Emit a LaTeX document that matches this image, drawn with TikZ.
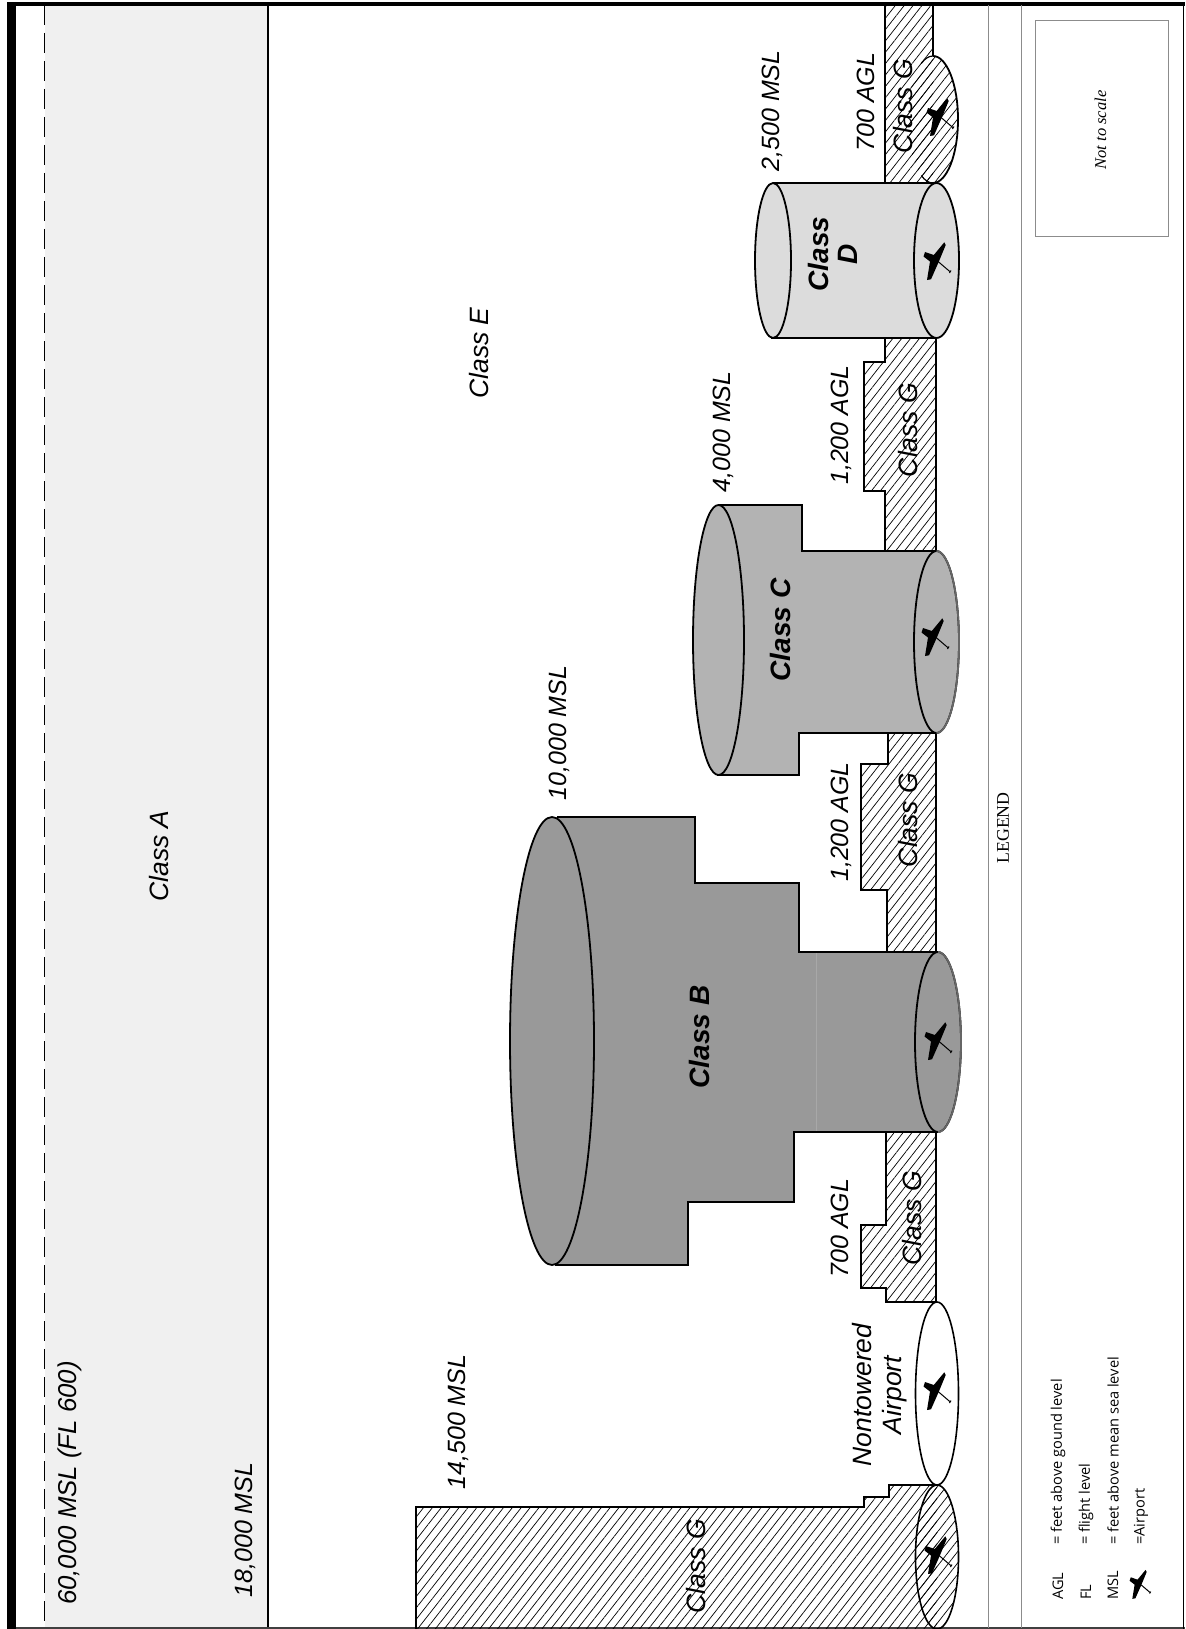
\documentclass[tikz,border=0pt]{standalone}
\usepackage{fontspec}
\setmainfont{Liberation Sans}
\newfontfamily\serfont{Liberation Serif}
\newfontfamily\legfont{Open Sans}
\usetikzlibrary{patterns.meta}
\definecolor{classa}{HTML}{F0F0F0}
\definecolor{classb}{HTML}{999999}
\definecolor{classc}{HTML}{B3B3B3}
\definecolor{classd}{HTML}{DCDCDC}
\definecolor{rulegrey}{HTML}{8C8C8C}
\begin{document}
\begin{tikzpicture}[x=1pt, y=-1pt, line join=miter,
    lbl/.style={rotate=90, inner sep=0, font=\fontsize{25}{28}\selectfont\itshape},
    cls/.style={rotate=90, inner sep=0, align=center, font=\fontsize{26.5}{30}\selectfont\itshape},
    clsb/.style={rotate=90, inner sep=0, align=center, font=\fontsize{28}{29}\selectfont\bfseries\itshape},
    leg/.style={rotate=90, inner sep=0, anchor=west, font=\fontsize{14.6}{18}\selectfont\legfont},
    hatch/.style={pattern={Lines[angle=52, distance=7pt, line width=.7pt]}},
    edge/.style={draw=black, line width=1.8pt},
    plane/.pic={
        \fill (7.3,-19.7) -- (8.7,-17) -- (1.8,-.3) -- (-6,17.3) -- (-10,18) -- (-7,-.5) -- (-13.5,-5.5) -- (-12,-10) -- (-3.2,-7) -- cycle;
        \draw[line width=1pt] (1.3,-.3) -- (13,9.7) (14,8.5) -- (12.5,11);
    }]

    \useasboundingbox (0,0) rectangle (1185,1629);

    \fill[classa] (45,5) rectangle (268,1629);
    \draw[line width=1.8pt, dash pattern=on 20pt off 8pt] (44.5,5) -- (44.5,1629);
    \draw[line width=2pt] (268,4) -- (268,1629);
    \fill (7,2) rectangle (16,1629);
    \draw[line width=3.4pt] (7,4) -- (1185,4);
    \draw[line width=1.4pt, black!75] (16,1628) -- (1185,1628);
    \draw[line width=1pt] (1183.5,4) -- (1183.5,1629);

    \draw[rulegrey, line width=1pt] (988.5,5) -- (988.5,1628);
    \draw[rulegrey, line width=1pt] (1021.5,5) -- (1021.5,1628);
    \draw[rulegrey, line width=1pt] (1035,21) rectangle (1168,237);

    \path[hatch] (885,5) rectangle (933,183);
    \draw[edge] (885,5) -- (885,183) (933,5) -- (933,56);
    \path[hatch] (933,119.5) ellipse (25 and 63.5);
    \draw[edge] (933,56) arc (-90:90:25 and 63.5);
    \draw[line width=1.2pt] (921.3,63.4) arc (-118:-90:25 and 63.5);
    \draw[line width=1.2pt] (921.3,175.6) arc (118:90:25 and 63.5);

    \path[hatch] (885,338) -- (885,362) -- (864,362) -- (864,491) -- (885,491) -- (885,551) -- (936,551) -- (936,338) -- cycle;
    \draw[edge] (885,338) -- (885,362) -- (864,362) -- (864,491) -- (885,491) -- (885,551) (936,338) -- (936,551);

    \path[hatch] (888,733) -- (888,764) -- (861,764) -- (861,890) -- (887,890) -- (887,952) -- (936,952) -- (936,733) -- cycle;
    \draw[edge] (888,733) -- (888,764) -- (861,764) -- (861,890) -- (887,890) -- (887,952) (936,733) -- (936,952);

    \path[hatch] (886,1132) -- (886,1225) -- (861,1225) -- (861,1288) -- (886,1288) -- (886,1302) -- (936,1302) -- (936,1132) -- cycle;
    \draw[edge] (886,1132) -- (886,1225) -- (861,1225) -- (861,1288) -- (886,1288) -- (886,1302) -- (936,1302) (936,1132) -- (936,1302);

    \path[hatch] (416,1629) -- (416,1507) -- (864,1507) -- (864,1497) -- (889,1497) -- (889,1485) -- (937,1485) -- (937,1629) -- cycle;
    \draw[line width=1.8pt] (416,1629) -- (416,1507) -- (864,1507) -- (864,1497) -- (889,1497) -- (889,1485) -- (937,1485);
    \path[hatch] (937,1557) ellipse (21.5 and 72);
    \draw[line width=1.6pt] (937,1557) ellipse (21.5 and 72);

    \draw[line width=1.6pt, fill=white] (937,1393.5) ellipse (21.5 and 91.5);

    % class D
    \fill[classd] (773,183) -- (936,183) -- (936,338) -- (771,338) -- cycle;
    \draw[edge] (773,183) -- (936,183) (771,338) -- (936,338);
    \draw[edge, fill=classd] (773,260.5) ellipse (18 and 77.5);
    \draw[edge, fill=classd] (936.5,260.5) ellipse (22.5 and 77.5);

    % class C
    \fill[classc] (719,505) -- (802,505) -- (802,551) -- (936,551) -- (936,733) -- (799,733) -- (799,775) -- (717,775) -- cycle;
    \draw[edge] (719,505) -- (802,505) -- (802,551) -- (936,551) (936,733) -- (799,733) -- (799,775) -- (717,775);
    \draw[edge, fill=classc] (718.5,640) ellipse (25.5 and 135);
    \draw[edge, fill=classc] (936.5,642) ellipse (22.5 and 91);
    \draw[line width=1.8pt, black!60] (936.5,551) arc (-90:90:22.5 and 91);

    % class B
    \fill[classb] (557,817) -- (695,817) -- (695,883) -- (799,883) -- (799,952) -- (936,952) -- (936,1132) -- (794,1132) -- (794,1202) -- (688,1202) -- (688,1265) -- (555,1265) -- cycle;
    \draw[edge] (557,817) -- (695,817) -- (695,883) -- (799,883) -- (799,952) -- (936,952) (936,1132) -- (794,1132) -- (794,1202) -- (688,1202) -- (688,1265) -- (555,1265);
    \draw[classb!85!white, line width=.6pt] (816,953) -- (816,1131);
    \draw[edge, fill=classb] (552,1041) ellipse (42 and 224);
    \draw[edge, fill=classb] (938,1042) ellipse (23 and 90);
    \draw[line width=1.8pt, black!60] (938,952) arc (-90:90:23 and 90);

    \pic at (937,262) {plane};
    \pic at (940,118) {plane};
    \pic at (935,638) {plane};
    \pic at (938,1042) {plane};
    \pic at (937,1392) {plane};
    \pic at (938,1556) {plane};
    \pic[scale=.77] at (1140,1585) {plane};

    \node[lbl, font=\fontsize{25.8}{28}\selectfont\itshape] (flsix) at (69.5,1483) {60,000 MSL (FL 600)};
    \node[lbl] (fleigh) at (245.6,1530) {18,000 MSL};
    \node[lbl] (msla)   at (458,1422) {14,500 MSL};
    \node[lbl] (mslb)   at (559,733) {10,000 MSL};
    \node[lbl] (mslc)   at (723,432) {4,000 MSL};
    \node[lbl] (msld)   at (772,111) {2,500 MSL};
    \node[lbl] (agla)   at (866,102) {700 AGL};
    \node[lbl] (aglb)   at (841,425) {1,200 AGL};
    \node[lbl] (aglc)   at (841,822) {1,200 AGL};
    \node[lbl] (agld)   at (840,1228) {700 AGL};

    \node[cls] (clsa)   at (159,856) {Class A};
    \node[cls] (clse)   at (479,353) {Class E};
    \node[cls] (clsga)  at (903,106) {Class G};
    \node[cls] (clsgb)  at (908,430) {Class G};
    \node[cls] (clsgc)  at (908,820) {Class G};
    \node[cls] (clsgd)  at (912,1218) {Class G};
    \node[cls] (clsge)  at (696,1566) {Class G};
    \node[cls] (nontow) at (880,1395) {Nontowered\\Airport};

    \node[clsb] (clsbb) at (699,1037) {Class B};
    \node[clsb] (clscc) at (780,630) {Class C};
    \node[clsb] (clsdd) at (833,254) {Class\\D};

    \node[rotate=90, inner sep=0, font=\fontsize{17.8}{20}\selectfont\serfont] (legend) at (1003,828) {LEGEND};
    \node[rotate=90, inner sep=0, font=\fontsize{16.5}{18}\selectfont\serfont\itshape] (scale) at (1100.5,130) {Not to scale};

    \node[leg] (agl)  at (1058,1600) {AGL};
    \node[leg] (fl)   at (1086,1600) {FL};
    \node[leg] (msl)  at (1113,1600) {MSL};
    \node[leg] (aglt) at (1058,1545) {= feet above gound level};
    \node[leg] (flt)  at (1086,1545) {= flight level};
    \node[leg] (mslt) at (1113,1545) {= feet above mean sea level};
    \node[leg] (airt) at (1141,1545) {=Airport};
\end{tikzpicture}
\end{document}
